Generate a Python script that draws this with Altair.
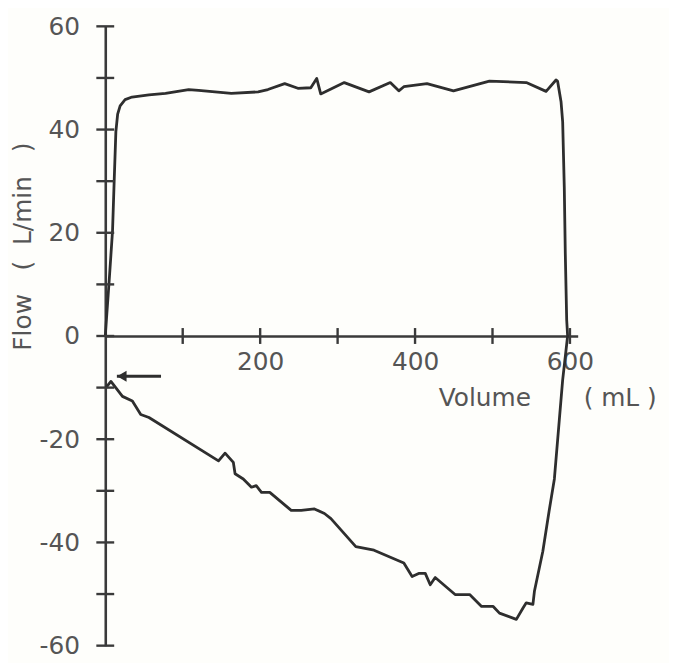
import altair as alt
import pandas as pd

# Flow-volume loop, traced in drawing order
volume = [0, 5.1, 9.4, 11.5, 13.7, 16, 19.2, 25.6, 34.6, 56.4, 77.8, 107.7, 120.5, 162.8,
          197.4, 210, 231.7, 248.7, 265.4, 273, 278.2, 308.6, 340.6, 368, 379, 385.5,
          415.4, 449.6, 496, 543.6, 569.2, 582, 584, 588.5, 590.6, 592.7, 594, 595.8, 597,
          590.6, 586.3, 579.9, 573, 565, 554.2, 552.2, 543.6, 539.4, 530.8, 509, 500.9,
          485.9, 470.5, 451.7, 426, 419.6, 413.2, 404.7, 396.2, 385.5, 347, 323.5, 291.4,
          283, 270.1, 253, 240.1, 212.4, 201.7, 194.9, 188.8, 178.2, 167.6, 165.4, 154.7,
          146.2, 56.4, 45.8, 35, 22.2, 7.3, 0.9]
flow = [0, 10.8, 20.4, 30, 39.6, 43, 44.6, 45.8, 46.3, 46.7, 47, 47.75, 47.6, 47,
        47.3, 47.75, 48.9, 48, 48.1, 49.9, 46.9, 49.1, 47.3, 49.1, 47.5, 48.3,
        48.9, 47.5, 49.4, 49.1, 47.4, 49.6, 49.4, 45.4, 41.5, 28.7, 16, 3.1, 0,
        -8.5, -16.2, -27.7, -34, -41.7, -49.4, -52, -51.7, -52.7, -54.9, -53.7, -52.4,
        -52.4, -50.1, -50.1, -46.8, -48.2, -46, -46, -46.6, -44, -41.5, -40.8, -35.4,
        -34.4, -33.5, -33.8, -33.8, -30.3, -30.3, -29, -29.3, -27.7, -26.7, -24.5, -22.7,
        -24.2, -15.8, -15.2, -12.6, -11.7, -8.8, -10]

x_ticks = [100, 200, 300, 400, 500, 600]
x_labels = [200, 400, 600]
y_ticks = [-60, -50, -40, -30, -20, -10, 0, 10, 20, 30, 40, 50, 60]
y_labels = [-60, -40, -20, 0, 20, 40, 60]

arrow_x = [15, 72]
arrow_y = -7.8

x_title = "Volume"
x_unit = "(\u00a0mL\u00a0)"
y_title = "Flow\u00a0\u00a0\u00a0(\u00a0\u00a0L/min\u00a0\u00a0\u00a0)"

W, H = 476, 624
FONT = "DejaVu Sans"
FS = 25
LINE = "#2e2e2e"
AX = "#3a3a3a"
TXT = "#555555"

xs = alt.Scale(domain=[0, 610], nice=False, zero=False)
ys = alt.Scale(domain=[-60, 60], nice=False, zero=False)

x_axis = alt.Axis(orient="bottom", offset=-H / 2, values=x_labels, ticks=False, tickSize=0,
                  domain=True, domainColor=AX, domainWidth=2.6, grid=False,
                  labelFont=FONT, labelFontSize=FS, labelColor=TXT, labelPadding=14,
                  labelFlush=False, labelExpr="'' + datum.value", title=None)
y_axis = alt.Axis(orient="left", values=y_labels, ticks=False, tickSize=0,
                  domain=True, domainColor=AX, domainWidth=2.6, grid=False,
                  labelFont=FONT, labelFontSize=FS, labelColor=TXT, labelPadding=26,
                  labelFlush=False, labelExpr="'' + datum.value", title=None)


def X(field):
    return alt.X(field, scale=xs, axis=x_axis)


def Y(field):
    return alt.Y(field, scale=ys, axis=y_axis)


loop_df = pd.DataFrame({"volume": volume, "flow": flow, "i": range(len(volume))})

loop = alt.Chart(loop_df).mark_line(color=LINE, strokeWidth=2.8, strokeJoin="round").encode(
    x=X("volume:Q"), y=Y("flow:Q"), order="i:Q",
)

ytick_df = pd.DataFrame({"flow": y_ticks})
yticks = alt.Chart(ytick_df).mark_rule(color=AX, strokeWidth=2.4).encode(
    y=Y("flow:Q"), x=alt.value(-9), x2=alt.value(9),
)

xtick_df = pd.DataFrame({"volume": x_ticks})
xticks = alt.Chart(xtick_df).mark_rule(color=AX, strokeWidth=2.4).encode(
    x=X("volume:Q"), y=alt.value(H / 2 - 8), y2=alt.value(H / 2 + 8),
)

arrow_df = pd.DataFrame({"volume": [arrow_x[0]], "v2": [arrow_x[1]], "flow": [arrow_y]})
shaft = alt.Chart(arrow_df).mark_rule(color=LINE, strokeWidth=2.8).encode(
    x=X("volume:Q"), x2="v2:Q", y=Y("flow:Q"),
)
head = alt.Chart(arrow_df).mark_point(shape="triangle-left", filled=True, color=LINE,
                                      size=120, opacity=1, xOffset=5).encode(
    x=X("volume:Q"), y=Y("flow:Q"),
)

title_df = pd.DataFrame({"t": [0]})
xt = alt.Chart(title_df).mark_text(text=x_title, font=FONT, fontSize=FS, color=TXT,
                                   align="left", baseline="alphabetic").encode(
    x=alt.value(336), y=alt.value(383))
xu = alt.Chart(title_df).mark_text(text=x_unit, font=FONT, fontSize=FS, color=TXT,
                                   align="left", baseline="alphabetic").encode(
    x=alt.value(482), y=alt.value(383))
yt = alt.Chart(title_df).mark_text(text=y_title, font=FONT, fontSize=FS, color=TXT,
                                   align="center", baseline="middle", angle=270).encode(
    x=alt.value(-83), y=alt.value(222))

chart = alt.layer(loop, yticks, xticks, shaft, head, xt, xu, yt).properties(
    width=W, height=H,
    autosize=alt.AutoSizeParams(type="none"),
    padding={"left": 98, "top": 16, "right": 92, "bottom": 15},
    background="#fefefb",
).configure_view(stroke=None)

chart.save("out.html", embed_options={"renderer": "svg", "actions": False})
